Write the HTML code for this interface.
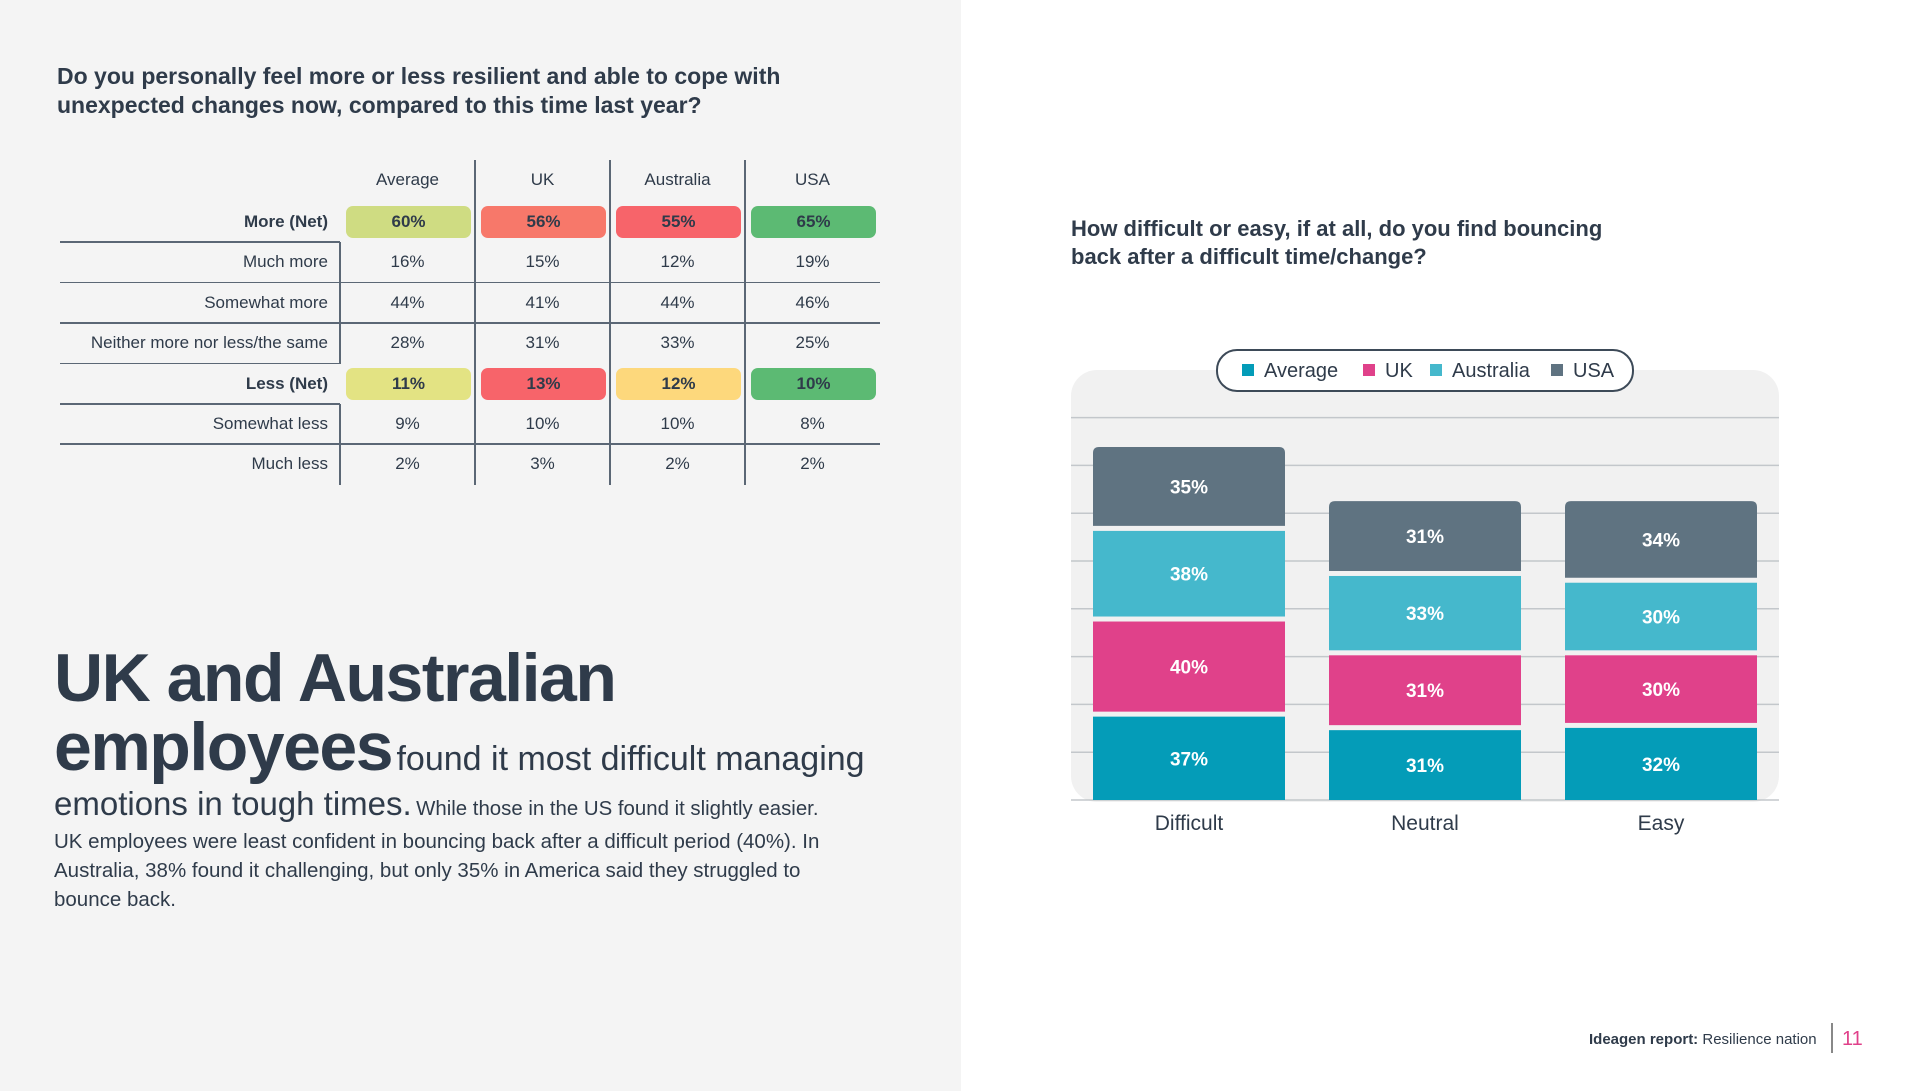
<!DOCTYPE html>
<html><head><meta charset="utf-8"><style>
*{margin:0;padding:0;box-sizing:border-box}
body{width:1920px;height:1091px;position:relative;background:#fff;font-family:"Liberation Sans",sans-serif;color:#2f3b4a;overflow:hidden}
#left{position:absolute;left:0;top:0;width:961px;height:1091px;background:#f4f4f4}
.abs{position:absolute;white-space:nowrap}
.q{font-weight:bold;font-size:23px;line-height:29px}
.cell{position:absolute;text-align:center;font-size:17px;line-height:40px;height:40px}
.lab{position:absolute;text-align:right;font-size:17px;line-height:40px;right:1592px}
.pill{position:absolute;height:32px;border-radius:7px;text-align:center;font-weight:bold;font-size:17px;line-height:32px}
.hl{position:absolute;height:1.5px;background:#5b6775}
.vl{position:absolute;width:1.5px;background:#5b6775}
.body{font-size:20.5px;line-height:28.8px}
</style></head><body>
<div id="left"></div>
<div class="abs q" style="left:57px;top:62px">Do you personally feel more or less resilient and able to cope with<br>unexpected changes now, compared to this time last year?</div>
<div id="table"></div>

<div class="abs" style="left:54px;top:640px;font-weight:bold;font-size:68px;line-height:76px;letter-spacing:-1.5px">UK and Australian</div>
<div class="abs" style="left:54px;top:708px"><span style="font-weight:bold;font-size:68px;letter-spacing:-1.5px">employees</span> <span style="font-size:34px">found it most difficult managing</span></div>
<div class="abs" style="left:54px;top:785px"><span style="font-size:33px">emotions in tough times.</span> <span style="font-size:20.4px">While those in the US found it slightly easier.</span></div>
<div class="abs body" style="left:54px;top:828px">UK employees were least confident in bouncing back after a difficult period (40%). In<br>Australia, 38% found it challenging, but only 35% in America said they struggled to<br>bounce back.</div>

<div class="abs q" style="left:1071px;top:215px;font-size:22px;line-height:28px">How difficult or easy, if at all, do you find bouncing<br>back after a difficult time/change?</div>
<svg id="chart" width="1920" height="1091" style="position:absolute;left:0;top:0"></svg>

<div class="abs" style="left:1589px;top:1031px;font-size:15px"><b>Ideagen report:</b> Resilience nation</div>
<div class="vl" style="left:1831px;top:1023px;height:30px;background:#888"></div>
<div class="abs" style="left:1842px;top:1028px;font-size:20px;color:#e0418a">11</div>

<script>
// ---- table data ----
const tblCols=["Average","UK","Australia","USA"];
const tblRows=["More (Net)","Much more","Somewhat more","Neither more nor less/the same","Less (Net)","Somewhat less","Much less"];
const tblVals=[["60%","56%","55%","65%"],["16%","15%","12%","19%"],["44%","41%","44%","46%"],["28%","31%","33%","25%"],["11%","13%","12%","10%"],["9%","10%","10%","8%"],["2%","3%","2%","2%"]];
const pillColors={0:["#cfdc82","#f7786a","#f7646a","#5cba73"],4:["#e3e383","#f7646a","#fdd87c","#5cba73"]};
(function(){
  const t=document.getElementById('table');
  const colX=[340,475,610,745,880];
  const rowTop=202, rh=40.4;
  tblCols.forEach((c,i)=>{const d=document.createElement('div');d.className='cell';d.style.left=colX[i]+'px';d.style.width=(colX[i+1]-colX[i])+'px';d.style.top='160px';d.textContent=c;
    
    
    t.appendChild(d);});
  for(let i=1;i<4;i++){const v=document.createElement('div');v.className='vl';v.style.left=(colX[i]-1)+'px';v.style.top='160px';v.style.height=(rowTop+7*rh-160)+'px';
    
    
    t.appendChild(v);}
  tblRows.forEach((r,ri)=>{
    const y=rowTop+ri*rh;
    const net=pillColors[ri]!==undefined;
    const l=document.createElement('div');l.className='lab';l.style.top=y+'px';l.style.fontWeight=net?'bold':'normal';l.textContent=r;
    
    
    t.appendChild(l);
    if(!net){const lv=document.createElement('div');lv.className='vl';lv.style.left='339px';lv.style.top=y+'px';lv.style.height=rh+'px';
      
      
      t.appendChild(lv);}
    if(ri>0){const h=document.createElement('div');h.className='hl';h.style.left='60px';
      h.style.width=((net||pillColors[ri-1]!==undefined)?280:820)+'px';h.style.top=(y-1)+'px';
      
      
      t.appendChild(h);}
    tblVals[ri].forEach((v,ci)=>{
      if(net){const p=document.createElement('div');p.className='pill';p.style.left=(colX[ci]+6)+'px';p.style.width=(colX[ci+1]-colX[ci]-10)+'px';p.style.top=(y+4)+'px';p.style.background=pillColors[ri][ci];p.textContent=v;
        
        
        t.appendChild(p);}
      else{const c=document.createElement('div');c.className='cell';c.style.left=colX[ci]+'px';c.style.width=(colX[ci+1]-colX[ci])+'px';c.style.top=y+'px';c.textContent=v;
        
        
        t.appendChild(c);}
    });
  });
})();

// ---- chart data ----
const categories=["Difficult","Neutral","Easy"];
const seriesNames=["Average","UK","Australia","USA"];
const avgVals=[37,31,32];
const ukVals=[40,31,30];
const ausVals=[38,33,30];
const usaVals=[35,31,34];
const seriesColors=["#049cb8","#e0418a","#45b8cc","#5f7381"];
(function(){
  const svg=document.getElementById('chart');const NS='http://www.w3.org/2000/svg';
  function el(n,a){const e=document.createElementNS(NS,n);for(const k in a)e.setAttribute(k,a[k]);svg.appendChild(e);return e;}
  const base=800, pxPer=2.253, gap=5;
  const y=v=>v*pxPer;
  const x=i=>1093+i*236; const bw=192;
  const panel=el('rect',{x:1071,y:370,width:708,height:432,rx:26,fill:'#f1f1f1'});
  
  
  for(let k=0;k<9;k++){const g=el('line',{x1:1071,x2:1779,y1:base-k*47.8,y2:base-k*47.8,stroke:'#c3c7cb','stroke-width':1.5});
    
    }
  const series=[avgVals,ukVals,ausVals,usaVals];
  categories.forEach((c,i)=>{
    let top=base;
    series.forEach((s,si)=>{
      const h=y(s[i]);const yy=top-h;
      const r=el(si===3?'path':'rect',si===3?{d:`M${x(i)},${top}V${yy+6}Q${x(i)},${yy} ${x(i)+6},${yy}H${x(i)+bw-6}Q${x(i)+bw},${yy} ${x(i)+bw},${yy+6}V${top}Z`,fill:seriesColors[si]}:{x:x(i),y:yy,width:bw,height:h,fill:seriesColors[si]});
      
      
      const t=el('text',{x:x(i)+bw/2,y:yy+h/2+7,'text-anchor':'middle',fill:'#fff','font-size':19,'font-weight':'bold','font-family':'Liberation Sans'});
      t.textContent=s[i]+'%';
      
      
      top=yy-gap;
    });
    const lt=el('text',{x:x(i)+bw/2,y:830,'text-anchor':'middle',fill:'#2f3b4a','font-size':21,'font-family':'Liberation Sans'});
    lt.textContent=c;
    
    
  });
  const lg=el('rect',{x:1217,y:350,width:416,height:41,rx:20,fill:'#fff',stroke:'#3d4a58','stroke-width':2});
  
  
  const lx=[1242,1363,1430,1551];
  seriesNames.forEach((n,i)=>{
    const sq=el('rect',{x:lx[i],y:364,width:12,height:12,fill:seriesColors[i]});
    
    
    const t=el('text',{x:lx[i]+22,y:377,fill:'#2f3b4a','font-size':20,'font-family':'Liberation Sans'});
    t.textContent=n;
    
    
  });
})();
</script>
</body></html>
